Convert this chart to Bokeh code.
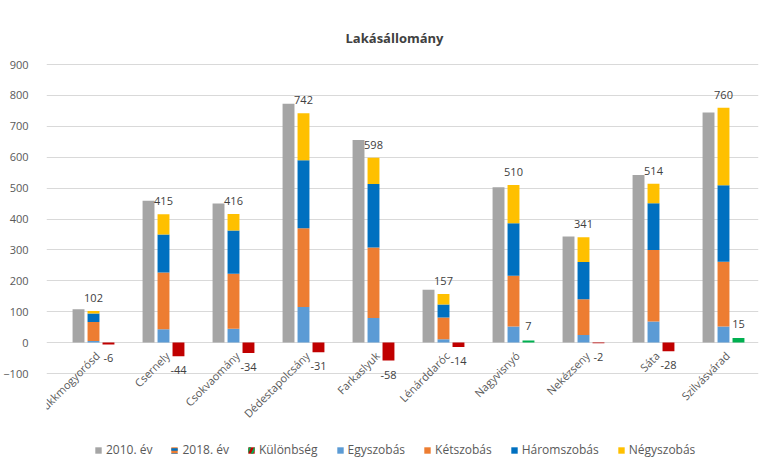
from math import pi
from bokeh.plotting import figure
from bokeh.models import Legend, LegendItem, Range1d, FixedTicker
from bokeh.core.properties import value
from bokeh.embed import file_html
from bokeh.resources import INLINE

# ---- data ----
categories = ["Bükkmogyorósd", "Csernely", "Csokvaomány", "Dédestapolcsány",
              "Farkaslyuk", "Lénárddaróc", "Nagyvisnyó", "Nekézseny", "Sáta",
              "Szilvásvárad"]
ev2010 = [108, 459, 450, 773, 656, 171, 503, 343, 542, 745]
ev2018 = [102, 415, 416, 742, 598, 157, 510, 341, 514, 760]
kulonbseg = [-6, -44, -34, -31, -58, -14, 7, -2, -28, 15]
egyszobas = [5, 43, 45, 115, 80, 11, 52, 25, 68, 52]
ketszobas = [62, 184, 178, 255, 228, 70, 164, 115, 232, 210]
haromszobas = [27, 123, 140, 220, 205, 42, 170, 121, 151, 247]
negyszobas = [8, 65, 53, 152, 85, 34, 124, 80, 63, 251]
y_ticks = [-100, 0, 100, 200, 300, 400, 500, 600, 700, 800, 900]
title_text = "Lakásállomány"

FONT = "Open Sans"
C_GRAY = "#A5A5A5"
C_EGY = "#5B9BD5"
C_KET = "#ED7D31"
C_HAROM = "#0070C0"
C_NEGY = "#FFC000"
C_NEG = "#C00000"
C_POS = "#00B050"
TXT = "#595959"
LAB = "#404040"

W = 0.17
OFF = 0.214
n = len(categories)
idx = list(range(n))
x_old = [i - OFF for i in idx]
x_new = [float(i) for i in idx]
x_dif = [i + OFF for i in idx]

parts = [egyszobas, ketszobas, haromszobas, negyszobas]
part_colors = [C_EGY, C_KET, C_HAROM, C_NEGY]
part_names = ["Egyszobás", "Kétszobás", "Háromszobás", "Négyszobás"]

# layout: the frame also holds the title area (top) and legend area (bottom)
PX_PER_CAT = 70.0
PX_PER_UNIT = 0.309
FRAME_W = 712
FRAME_H = 458
x_start = -0.5 - 12.0 / PX_PER_CAT
x_end = x_start + FRAME_W / PX_PER_CAT
y_top = 900 + 59 / PX_PER_UNIT
y_bot = y_top - FRAME_H / PX_PER_UNIT

p = figure(x_range=Range1d(x_start, x_end), y_range=Range1d(y_bot, y_top),
           frame_width=FRAME_W, frame_height=FRAME_H,
           output_backend="svg", toolbar_location=None)

p.outline_line_color = None
p.xgrid.grid_line_color = None
p.ygrid.ticker = FixedTicker(ticks=y_ticks)
p.ygrid.grid_line_color = "#d9d9d9"
p.yaxis.ticker = FixedTicker(ticks=y_ticks)
p.yaxis.axis_line_color = None
p.yaxis.major_tick_line_color = None
p.yaxis.minor_tick_line_color = None
p.yaxis.major_label_standoff = 12
p.yaxis.major_label_text_font = FONT
p.yaxis.major_label_text_font_size = "11px"
p.yaxis.major_label_text_color = TXT
p.xaxis.visible = False

# title
p.text(x=[(n - 1) / 2], y=[900], text=[title_text], x_offset=-14, y_offset=-27,
       text_align="center", text_baseline="middle", text_font=value(FONT),
       text_font_size="13px", text_font_style="bold", text_color=LAB)

r2010 = p.vbar(x=x_old, top=ev2010, width=W, fill_color=C_GRAY, line_color=None)

bottom = [0] * n
stack_renderers = []
for vals, col in zip(parts, part_colors):
    top = [b + v for b, v in zip(bottom, vals)]
    r = p.vbar(x=x_new, top=top, bottom=bottom, width=W, fill_color=col,
               line_color=None)
    stack_renderers.append(r)
    bottom = top

diff_colors = [C_POS if d > 0 else C_NEG for d in kulonbseg]
p.vbar(x=x_dif, top=kulonbseg, width=W, fill_color=diff_colors, line_color=None)

# category labels at the zero line, slanted
p.text(x=x_new, y=[0] * n, text=categories, angle=pi / 4,
       text_align="right", text_baseline="middle", x_offset=4, y_offset=11,
       text_font=value(FONT), text_font_size="11px", text_color=TXT)

# total labels above the 2018 stacks
p.text(x=x_new, y=ev2018, text=[str(v) for v in ev2018],
       text_align="center", text_baseline="middle", y_offset=-13,
       text_font=value(FONT), text_font_size="11px", text_color=LAB)

# difference labels
neg_x = [x for x, d in zip(x_dif, kulonbseg) if d <= 0]
neg_d = [d for d in kulonbseg if d <= 0]
pos_x = [x for x, d in zip(x_dif, kulonbseg) if d > 0]
pos_d = [d for d in kulonbseg if d > 0]
p.text(x=neg_x, y=neg_d, text=[str(d) for d in neg_d],
       text_align="center", text_baseline="middle", y_offset=14,
       text_font=value(FONT), text_font_size="11px", text_color=LAB)
p.text(x=pos_x, y=pos_d, text=[str(d) for d in pos_d],
       text_align="center", text_baseline="middle", y_offset=-14,
       text_font=value(FONT), text_font_size="11px", text_color=LAB)

# legend-only renderers for the composite icons
r18_leg = p.vbar(x=[0], top=[0], width=0.0, fill_color=C_KET, line_color=None,
                 hatch_pattern="-", hatch_color=C_HAROM, hatch_scale=5,
                 hatch_weight=2.5)
rdiff_leg = p.vbar(x=[0], top=[0], width=0.0, fill_color=C_NEG, line_color=None,
                   hatch_pattern="/", hatch_color=C_POS, hatch_scale=10,
                   hatch_weight=2)

items = [
    LegendItem(label="2010. év", renderers=[r2010]),
    LegendItem(label="2018. év", renderers=[r18_leg]),
    LegendItem(label="Különbség", renderers=[rdiff_leg]),
] + [LegendItem(label=nm, renderers=[r]) for nm, r in zip(part_names, stack_renderers)]

legend = Legend(items=items, orientation="horizontal", location=(48, 5),
                glyph_width=8, glyph_height=8, label_standoff=4, spacing=18,
                label_text_font=FONT, label_text_font_size="12px",
                label_text_color=TXT, border_line_color=None,
                background_fill_alpha=0, padding=0, margin=0)
p.add_layout(legend)

open("out.html", "w").write(file_html(p, INLINE))
